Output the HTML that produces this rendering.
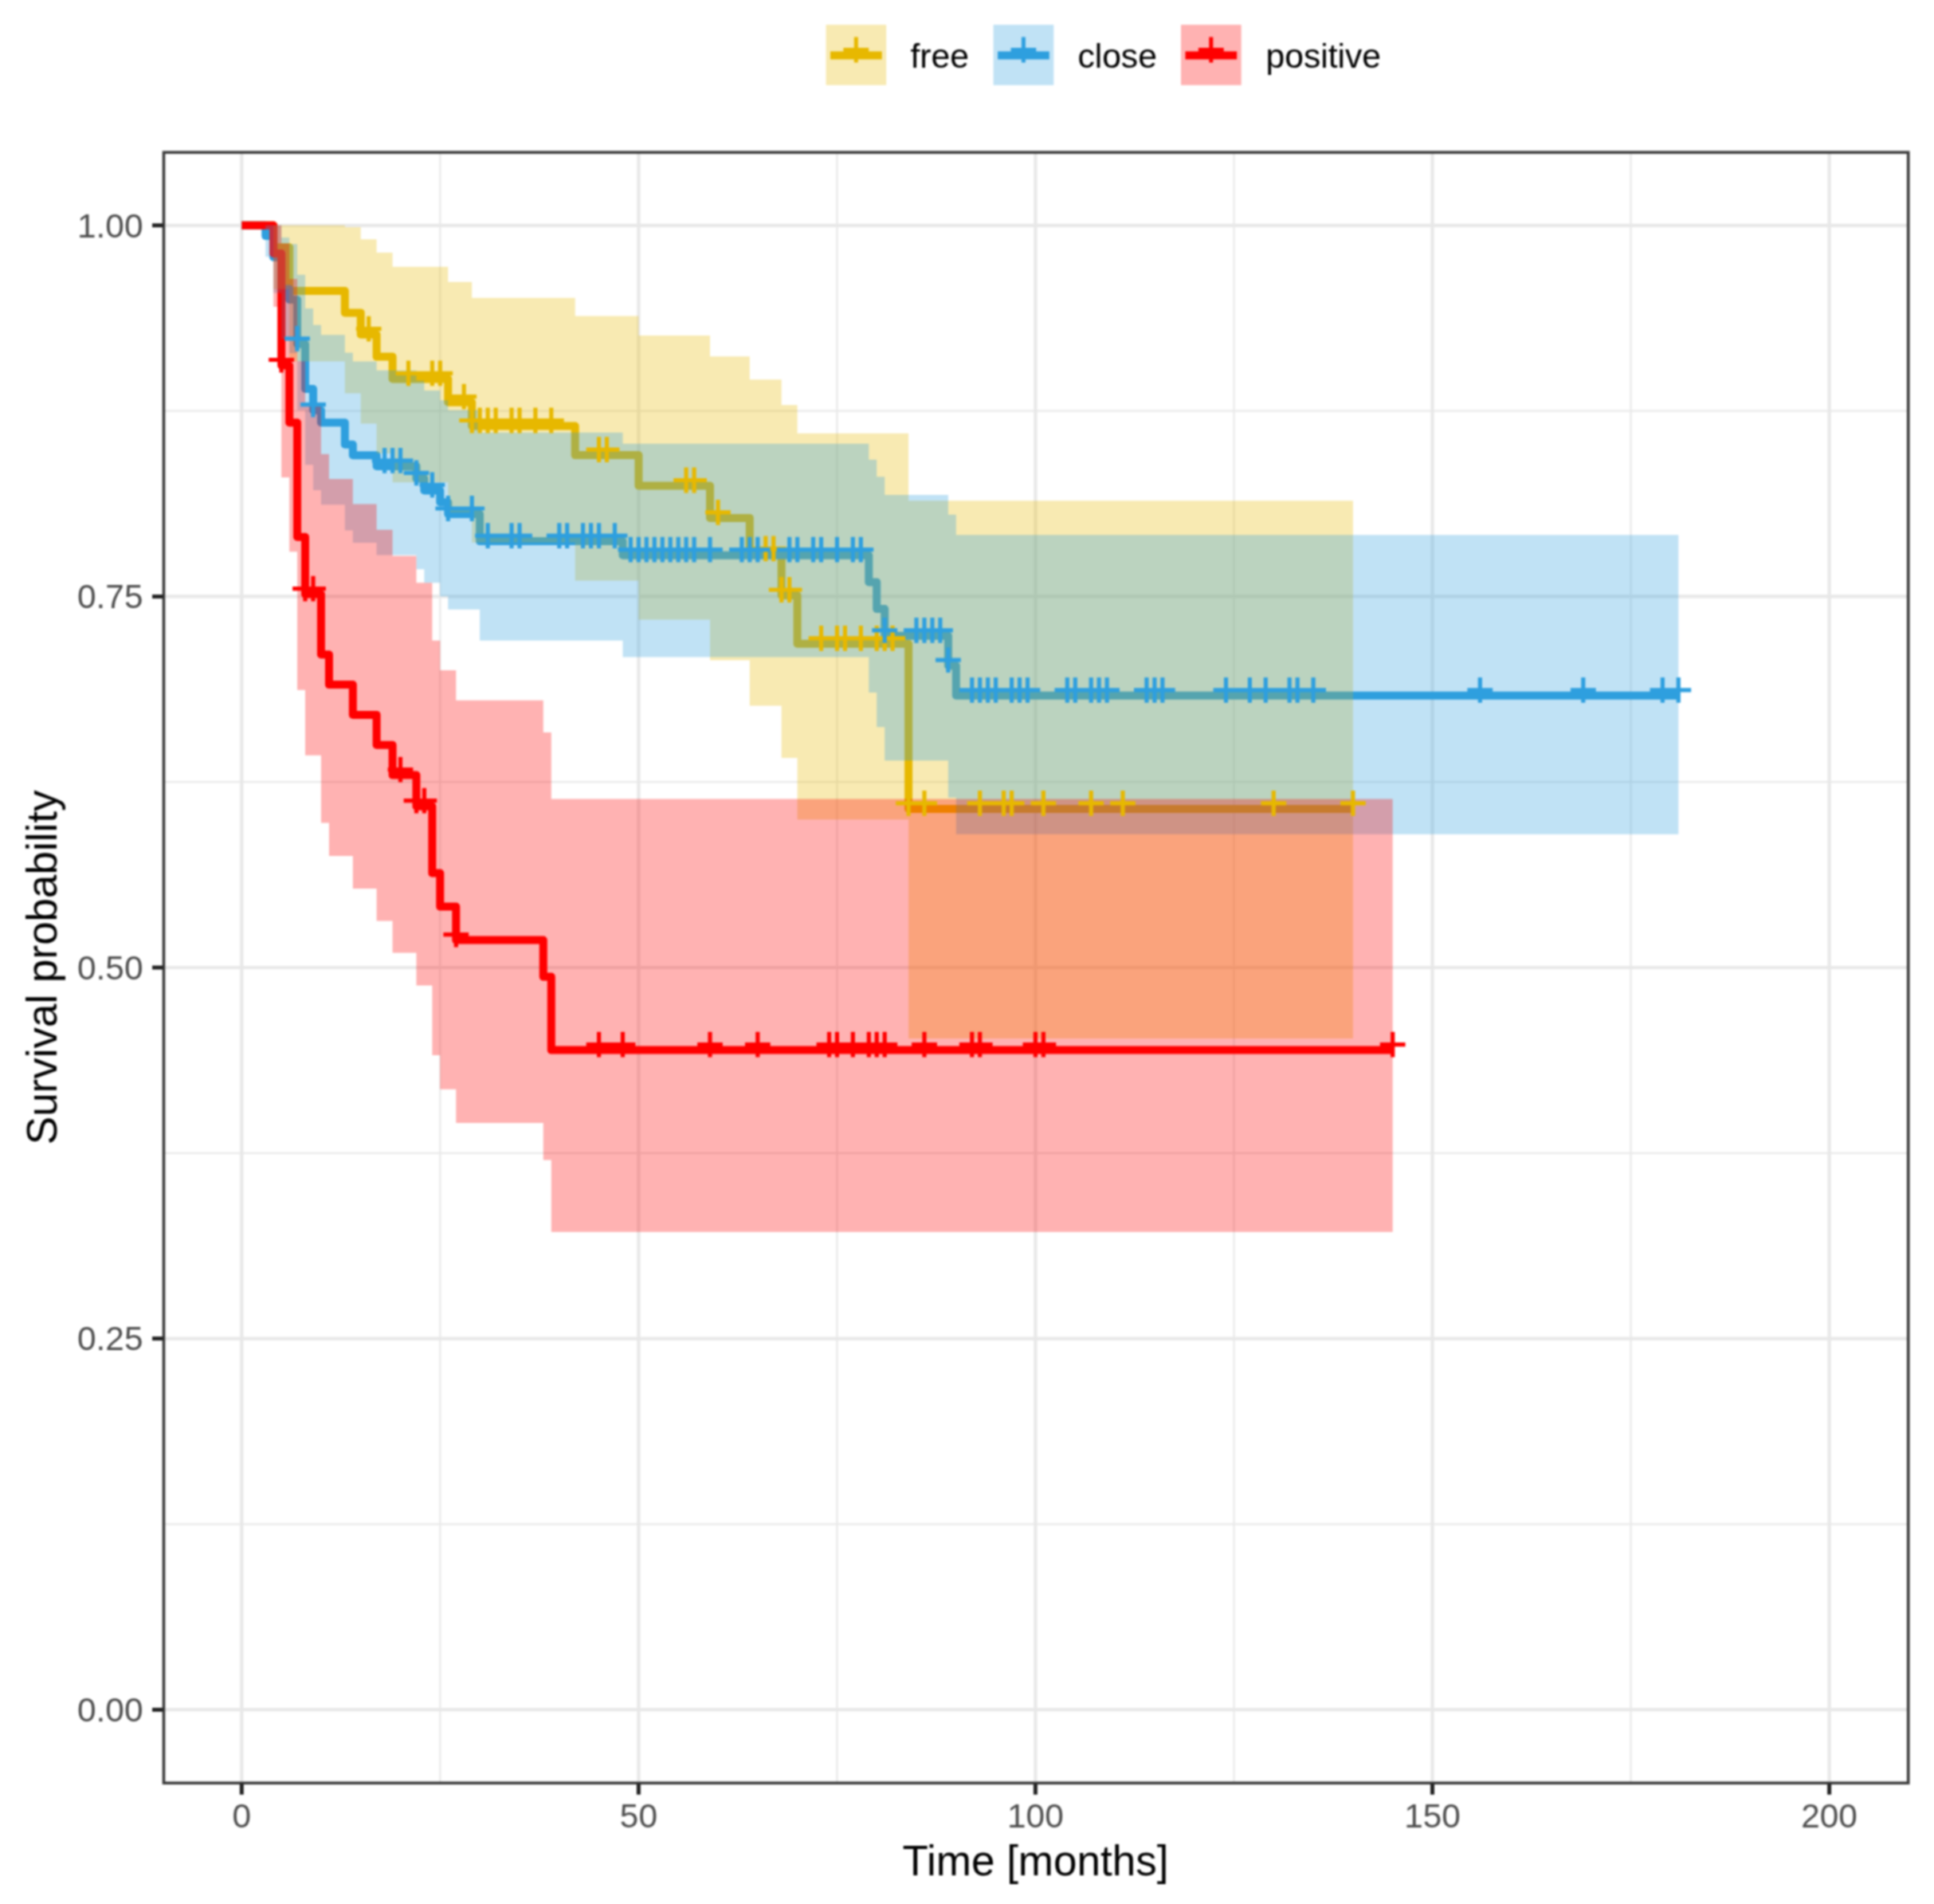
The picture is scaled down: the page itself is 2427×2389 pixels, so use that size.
<!DOCTYPE html>
<html lang="en"><head><meta charset="utf-8"><title>Survival probability by margin status</title>
<style>html,body{margin:0;padding:0;background:#fff}body{width:2427px;height:2389px;position:relative;overflow:hidden}</style>
</head><body>
<svg width="2427" height="2389" viewBox="0 0 2427 2389" style="position:absolute;left:0;top:0;filter:blur(0.9px)">
<rect x="0" y="0" width="2427" height="2389" fill="#fff"/>
<path d="M552.3 191.2V2237.2M1050.4 191.2V2237.2M1548.5 191.2V2237.2M2046.6 191.2V2237.2M205.5 1912.4H2394.7M205.5 1446.8H2394.7M205.5 981.2H2394.7M205.5 515.6H2394.7" stroke="#E9E9E9" stroke-width="2.2" fill="none"/>
<path d="M303.3 191.2V2237.2M801.4 191.2V2237.2M1299.4 191.2V2237.2M1797.5 191.2V2237.2M2295.6 191.2V2237.2M205.5 2145.2H2394.7M205.5 1679.6H2394.7M205.5 1214.0H2394.7M205.5 748.4H2394.7M205.5 282.8H2394.7" stroke="#E8E8E8" stroke-width="4.2" fill="none"/>
<polyline points="303.3,282.8 343.1,282.8 343.1,310.2 363.1,310.2 363.1,365.0 432.8,365.0 432.8,392.4 452.7,392.4 452.7,419.7 472.6,419.7 472.6,447.6 492.6,447.6 492.6,475.4 562.3,475.4 562.3,504.7 592.2,504.7 592.2,534.5 721.7,534.5 721.7,571.1 801.4,571.1 801.4,609.5 891.0,609.5 891.0,649.9 940.8,649.9 940.8,695.3 980.7,695.3 980.7,747.0 1000.6,747.0 1000.6,807.8 1140.1,807.8 1140.1,1014.9 1697.9,1014.9" fill="none" stroke="#E7B800" stroke-width="10" stroke-linejoin="round"/>
<polyline points="303.3,282.8 333.2,282.8 333.2,296.1 343.1,296.1 343.1,322.7 353.1,322.7 353.1,362.6 363.1,362.6 363.1,375.9 373.0,375.9 373.0,431.8 383.0,431.8 383.0,488.0 393.0,488.0 393.0,514.7 402.9,514.7 402.9,530.2 432.8,530.2 432.8,557.8 442.8,557.8 442.8,571.3 472.6,571.3 472.6,584.9 522.5,584.9 522.5,600.4 532.4,600.4 532.4,615.4 552.3,615.4 552.3,630.3 562.3,630.3 562.3,645.0 602.1,645.0 602.1,679.1 781.5,679.1 781.5,696.7 1090.3,696.7 1090.3,730.4 1100.2,730.4 1100.2,764.1 1110.2,764.1 1110.2,797.8 1189.9,797.8 1189.9,835.2 1199.8,835.2 1199.8,872.8 2106.3,872.8" fill="none" stroke="#2E9FDF" stroke-width="10" stroke-linejoin="round"/>
<polyline points="303.3,282.8 343.1,282.8 343.1,317.9 353.1,317.9 353.1,458.5 363.1,458.5 363.1,530.3 373.0,530.3 373.0,673.8 383.0,673.8 383.0,745.6 402.9,745.6 402.9,821.3 412.9,821.3 412.9,859.1 442.8,859.1 442.8,896.9 472.6,896.9 472.6,934.7 492.6,934.7 492.6,972.6 522.5,972.6 522.5,1011.7 542.4,1011.7 542.4,1095.6 552.3,1095.6 552.3,1137.6 572.3,1137.6 572.3,1179.6 681.8,1179.6 681.8,1225.6 691.8,1225.6 691.8,1317.6 1747.7,1317.6" fill="none" stroke="#FF0000" stroke-width="10" stroke-linejoin="round"/>
<polygon points="303.3,282.8 343.1,282.8 343.1,282.8 363.1,282.8 363.1,282.8 432.8,282.8 432.8,285.0 452.7,285.0 452.7,300.2 472.6,300.2 472.6,316.9 492.6,316.9 492.6,334.7 562.3,334.7 562.3,353.7 592.2,353.7 592.2,373.8 721.7,373.8 721.7,396.4 801.4,396.4 801.4,420.9 891.0,420.9 891.0,447.3 940.8,447.3 940.8,476.2 980.7,476.2 980.7,508.2 1000.6,508.2 1000.6,543.8 1140.1,543.8 1140.1,628.2 1697.9,628.2 1697.9,1303.1 1140.1,1303.1 1140.1,1028.3 1000.6,1028.3 1000.6,951.0 980.7,951.0 980.7,885.5 940.8,885.5 940.8,828.4 891.0,828.4 891.0,777.5 801.4,777.5 801.4,728.4 721.7,728.4 721.7,680.7 592.2,680.7 592.2,643.0 562.3,643.0 562.3,605.2 492.6,605.2 492.6,568.9 472.6,568.9 472.6,531.5 452.7,531.5 452.7,493.5 432.8,493.5 432.8,453.6 363.1,453.6 363.1,362.7 343.1,362.7 343.1,282.8 303.3,282.8" fill="#E7B800" fill-opacity="0.3"/>
<polygon points="303.3,282.8 333.2,282.8 333.2,282.8 343.1,282.8 343.1,282.8 353.1,282.8 353.1,298.0 363.1,298.0 363.1,306.3 373.0,306.3 373.0,344.7 383.0,344.7 383.0,386.9 393.0,386.9 393.0,407.8 402.9,407.8 402.9,420.2 432.8,420.2 432.8,442.5 442.8,442.5 442.8,453.5 472.6,453.5 472.6,464.7 522.5,464.7 522.5,477.5 532.4,477.5 532.4,489.9 552.3,489.9 552.3,502.3 562.3,502.3 562.3,514.7 602.1,514.7 602.1,542.7 781.5,542.7 781.5,556.7 1090.3,556.7 1090.3,576.7 1100.2,576.7 1100.2,598.2 1110.2,598.2 1110.2,620.9 1189.9,620.9 1189.9,645.7 1199.8,645.7 1199.8,671.3 2106.3,671.3 2106.3,1046.7 1199.8,1046.7 1199.8,1000.8 1189.9,1000.8 1189.9,954.2 1110.2,954.2 1110.2,912.3 1100.2,912.3 1100.2,869.1 1090.3,869.1 1090.3,824.4 781.5,824.4 781.5,803.8 602.1,803.8 602.1,764.8 562.3,764.8 562.3,748.2 552.3,748.2 552.3,731.3 532.4,731.3 532.4,714.2 522.5,714.2 522.5,696.4 472.6,696.4 472.6,680.9 442.8,680.9 442.8,665.4 432.8,665.4 432.8,633.3 402.9,633.3 402.9,615.1 393.0,615.1 393.0,583.3 383.0,583.3 383.0,514.7 373.0,514.7 373.0,442.9 363.1,442.9 363.1,424.9 353.1,424.9 353.1,367.5 343.1,367.5 343.1,322.3 333.2,322.3 333.2,282.8 303.3,282.8" fill="#2E9FDF" fill-opacity="0.3"/>
<polygon points="303.3,282.8 343.1,282.8 343.1,282.8 353.1,282.8 353.1,305.4 363.1,305.4 363.1,350.1 373.0,350.1 373.0,453.3 383.0,453.3 383.0,509.4 402.9,509.4 402.9,569.8 412.9,569.8 412.9,600.9 442.8,600.9 442.8,632.5 472.6,632.5 472.6,664.8 492.6,664.8 492.6,697.5 522.5,697.5 522.5,731.3 542.4,731.3 542.4,803.7 552.3,803.7 552.3,840.9 572.3,840.9 572.3,878.7 681.8,878.7 681.8,919.1 691.8,919.1 691.8,1002.5 1747.7,1002.5 1747.7,1545.8 691.8,1545.8 691.8,1455.5 681.8,1455.5 681.8,1409.0 572.3,1409.0 572.3,1366.8 552.3,1366.8 552.3,1324.0 542.4,1324.0 542.4,1236.4 522.5,1236.4 522.5,1195.4 492.6,1195.4 492.6,1155.5 472.6,1155.5 472.6,1115.1 442.8,1115.1 442.8,1074.1 412.9,1074.1 412.9,1032.6 402.9,1032.6 402.9,947.7 383.0,947.7 383.0,865.7 373.0,865.7 373.0,692.3 363.1,692.3 363.1,598.9 353.1,598.9 353.1,384.9 343.1,384.9 343.1,282.8 303.3,282.8" fill="#FF0000" fill-opacity="0.3"/>
<path d="M446.8 412.7h31.8M462.7 396.8v31.8M496.6 468.4h31.8M512.5 452.5v31.8M526.5 468.4h31.8M542.4 452.5v31.8M536.4 468.4h31.8M552.3 452.5v31.8M566.3 497.7h31.8M582.2 481.8v31.8M576.3 527.5h31.8M592.2 511.6v31.8M586.2 527.5h31.8M602.1 511.6v31.8M596.2 527.5h31.8M612.1 511.6v31.8M606.2 527.5h31.8M622.1 511.6v31.8M626.1 527.5h31.8M642.0 511.6v31.8M636.1 527.5h31.8M652.0 511.6v31.8M656.0 527.5h31.8M671.9 511.6v31.8M675.9 527.5h31.8M691.8 511.6v31.8M735.7 564.1h31.8M751.6 548.2v31.8M745.6 564.1h31.8M761.5 548.2v31.8M845.2 602.5h31.8M861.1 586.6v31.8M855.2 602.5h31.8M871.1 586.6v31.8M885.1 642.9h31.8M901.0 627.0v31.8M944.9 688.3h31.8M960.8 672.4v31.8M954.8 688.3h31.8M970.7 672.4v31.8M964.8 740.0h31.8M980.7 724.1v31.8M974.7 740.0h31.8M990.6 724.1v31.8M1014.6 800.8h31.8M1030.5 784.9v31.8M1034.5 800.8h31.8M1050.4 784.9v31.8M1044.5 800.8h31.8M1060.4 784.9v31.8M1064.4 800.8h31.8M1080.3 784.9v31.8M1084.3 800.8h31.8M1100.2 784.9v31.8M1094.3 800.8h31.8M1110.2 784.9v31.8M1104.2 800.8h31.8M1120.1 784.9v31.8M1124.2 1007.9h31.8M1140.1 992.0v31.8M1144.1 1007.9h31.8M1160.0 992.0v31.8M1213.8 1007.9h31.8M1229.7 992.0v31.8M1243.7 1007.9h31.8M1259.6 992.0v31.8M1253.7 1007.9h31.8M1269.6 992.0v31.8M1293.5 1007.9h31.8M1309.4 992.0v31.8M1353.3 1007.9h31.8M1369.2 992.0v31.8M1393.1 1007.9h31.8M1409.0 992.0v31.8M1582.4 1007.9h31.8M1598.3 992.0v31.8M1682.0 1007.9h31.8M1697.9 992.0v31.8" stroke="#E7B800" stroke-width="5.2" fill="none"/>
<path d="M357.1 424.8h31.8M373.0 408.9v31.8M377.1 507.7h31.8M393.0 491.8v31.8M466.7 577.9h31.8M482.6 562.0v31.8M476.7 577.9h31.8M492.6 562.0v31.8M486.6 577.9h31.8M502.5 562.0v31.8M506.6 593.4h31.8M522.5 577.5v31.8M526.5 608.4h31.8M542.4 592.5v31.8M546.4 638.0h31.8M562.3 622.1v31.8M576.3 638.0h31.8M592.2 622.1v31.8M596.2 672.1h31.8M612.1 656.2v31.8M626.1 672.1h31.8M642.0 656.2v31.8M636.1 672.1h31.8M652.0 656.2v31.8M685.9 672.1h31.8M701.8 656.2v31.8M695.8 672.1h31.8M711.7 656.2v31.8M715.7 672.1h31.8M731.6 656.2v31.8M725.7 672.1h31.8M741.6 656.2v31.8M735.7 672.1h31.8M751.6 656.2v31.8M755.6 672.1h31.8M771.5 656.2v31.8M775.5 689.7h31.8M791.4 673.8v31.8M785.5 689.7h31.8M801.4 673.8v31.8M795.4 689.7h31.8M811.3 673.8v31.8M805.4 689.7h31.8M821.3 673.8v31.8M815.4 689.7h31.8M831.3 673.8v31.8M825.3 689.7h31.8M841.2 673.8v31.8M835.3 689.7h31.8M851.2 673.8v31.8M845.2 689.7h31.8M861.1 673.8v31.8M855.2 689.7h31.8M871.1 673.8v31.8M875.1 689.7h31.8M891.0 673.8v31.8M915.0 689.7h31.8M930.9 673.8v31.8M924.9 689.7h31.8M940.8 673.8v31.8M934.9 689.7h31.8M950.8 673.8v31.8M974.7 689.7h31.8M990.6 673.8v31.8M984.7 689.7h31.8M1000.6 673.8v31.8M1004.6 689.7h31.8M1020.5 673.8v31.8M1014.6 689.7h31.8M1030.5 673.8v31.8M1034.5 689.7h31.8M1050.4 673.8v31.8M1054.4 689.7h31.8M1070.3 673.8v31.8M1064.4 689.7h31.8M1080.3 673.8v31.8M1094.3 790.8h31.8M1110.2 774.9v31.8M1134.1 790.8h31.8M1150.0 774.9v31.8M1144.1 790.8h31.8M1160.0 774.9v31.8M1154.1 790.8h31.8M1170.0 774.9v31.8M1164.0 790.8h31.8M1179.9 774.9v31.8M1174.0 828.2h31.8M1189.9 812.3v31.8M1203.9 865.8h31.8M1219.8 849.9v31.8M1213.8 865.8h31.8M1229.7 849.9v31.8M1223.8 865.8h31.8M1239.7 849.9v31.8M1233.7 865.8h31.8M1249.6 849.9v31.8M1253.7 865.8h31.8M1269.6 849.9v31.8M1263.6 865.8h31.8M1279.5 849.9v31.8M1273.6 865.8h31.8M1289.5 849.9v31.8M1323.4 865.8h31.8M1339.3 849.9v31.8M1333.4 865.8h31.8M1349.3 849.9v31.8M1353.3 865.8h31.8M1369.2 849.9v31.8M1363.2 865.8h31.8M1379.1 849.9v31.8M1373.2 865.8h31.8M1389.1 849.9v31.8M1423.0 865.8h31.8M1438.9 849.9v31.8M1433.0 865.8h31.8M1448.9 849.9v31.8M1442.9 865.8h31.8M1458.8 849.9v31.8M1522.6 865.8h31.8M1538.5 849.9v31.8M1552.5 865.8h31.8M1568.4 849.9v31.8M1572.4 865.8h31.8M1588.3 849.9v31.8M1602.3 865.8h31.8M1618.2 849.9v31.8M1612.3 865.8h31.8M1628.2 849.9v31.8M1632.2 865.8h31.8M1648.1 849.9v31.8M1841.4 865.8h31.8M1857.3 849.9v31.8M1970.9 865.8h31.8M1986.8 849.9v31.8M2070.5 865.8h31.8M2086.4 849.9v31.8M2090.4 865.8h31.8M2106.3 849.9v31.8" stroke="#2E9FDF" stroke-width="5.2" fill="none"/>
<path d="M337.2 451.5h31.8M353.1 435.6v31.8M367.1 738.6h31.8M383.0 722.7v31.8M377.1 738.6h31.8M393.0 722.7v31.8M486.6 965.6h31.8M502.5 949.7v31.8M506.6 1004.7h31.8M522.5 988.8v31.8M516.5 1004.7h31.8M532.4 988.8v31.8M556.4 1172.6h31.8M572.3 1156.7v31.8M735.7 1310.6h31.8M751.6 1294.7v31.8M765.6 1310.6h31.8M781.5 1294.7v31.8M875.1 1310.6h31.8M891.0 1294.7v31.8M934.9 1310.6h31.8M950.8 1294.7v31.8M1024.6 1310.6h31.8M1040.5 1294.7v31.8M1034.5 1310.6h31.8M1050.4 1294.7v31.8M1054.4 1310.6h31.8M1070.3 1294.7v31.8M1074.4 1310.6h31.8M1090.3 1294.7v31.8M1084.3 1310.6h31.8M1100.2 1294.7v31.8M1094.3 1310.6h31.8M1110.2 1294.7v31.8M1144.1 1310.6h31.8M1160.0 1294.7v31.8M1203.9 1310.6h31.8M1219.8 1294.7v31.8M1213.8 1310.6h31.8M1229.7 1294.7v31.8M1283.5 1310.6h31.8M1299.4 1294.7v31.8M1293.5 1310.6h31.8M1309.4 1294.7v31.8M1731.8 1310.6h31.8M1747.7 1294.7v31.8" stroke="#FF0000" stroke-width="5.2" fill="none"/>
<rect x="205.5" y="191.2" width="2189.2" height="2046.0" fill="none" stroke="#3a3a3a" stroke-width="3.6"/>
<path d="M303.3 2238.2v13.5M801.4 2238.2v13.5M1299.4 2238.2v13.5M1797.5 2238.2v13.5M2295.6 2238.2v13.5M204.5 2145.2h-13.5M204.5 1679.6h-13.5M204.5 1214.0h-13.5M204.5 748.4h-13.5M204.5 282.8h-13.5" stroke="#222" stroke-width="5" fill="none"/>
<g font-family="'Liberation Sans', Arial, Helvetica, sans-serif" font-size="42.4" fill="#4D4D4D">
<text x="303.3" y="2293.2" text-anchor="middle">0</text>
<text x="801.4" y="2293.2" text-anchor="middle">50</text>
<text x="1299.4" y="2293.2" text-anchor="middle">100</text>
<text x="1797.5" y="2293.2" text-anchor="middle">150</text>
<text x="2295.6" y="2293.2" text-anchor="middle">200</text>
<text x="179.5" y="2160.1" text-anchor="end">0.00</text>
<text x="179.5" y="1694.4" text-anchor="end">0.25</text>
<text x="179.5" y="1228.8" text-anchor="end">0.50</text>
<text x="179.5" y="763.2" text-anchor="end">0.75</text>
<text x="179.5" y="297.6" text-anchor="end">1.00</text>
</g>
<g font-family="'Liberation Sans', Arial, Helvetica, sans-serif" font-size="53" fill="#000">
<text x="1299.5" y="2352.8" text-anchor="middle">Time [months]</text>
<text transform="translate(70.9,1213.8) rotate(-90)" text-anchor="middle">Survival probability</text>
</g>
<g font-family="'Liberation Sans', Arial, Helvetica, sans-serif" font-size="42.6" fill="#000">
<path d="M1042.0 69.5H1106.7" stroke="#E7B800" stroke-width="10" fill="none"/>
<rect x="1036.5" y="31.1" width="75.7" height="75.7" fill="#E7B800" fill-opacity="0.3"/>
<path d="M1058.4 62.5h31.8M1074.3 46.6v31.8" stroke="#E7B800" stroke-width="5" fill="none"/>
<text x="1142.5" y="84.6">free</text>
<path d="M1252.1 69.5H1316.8" stroke="#2E9FDF" stroke-width="10" fill="none"/>
<rect x="1246.6" y="31.1" width="75.7" height="75.7" fill="#2E9FDF" fill-opacity="0.3"/>
<path d="M1268.5 62.5h31.8M1284.4 46.6v31.8" stroke="#2E9FDF" stroke-width="5" fill="none"/>
<text x="1352.4" y="84.6">close</text>
<path d="M1487.5 69.5H1552.2" stroke="#FF0000" stroke-width="10" fill="none"/>
<rect x="1482.0" y="31.1" width="75.7" height="75.7" fill="#FF0000" fill-opacity="0.3"/>
<path d="M1503.9 62.5h31.8M1519.8 46.6v31.8" stroke="#FF0000" stroke-width="5" fill="none"/>
<text x="1588.6" y="84.6">positive</text>
</g>
</svg>
</body></html>
